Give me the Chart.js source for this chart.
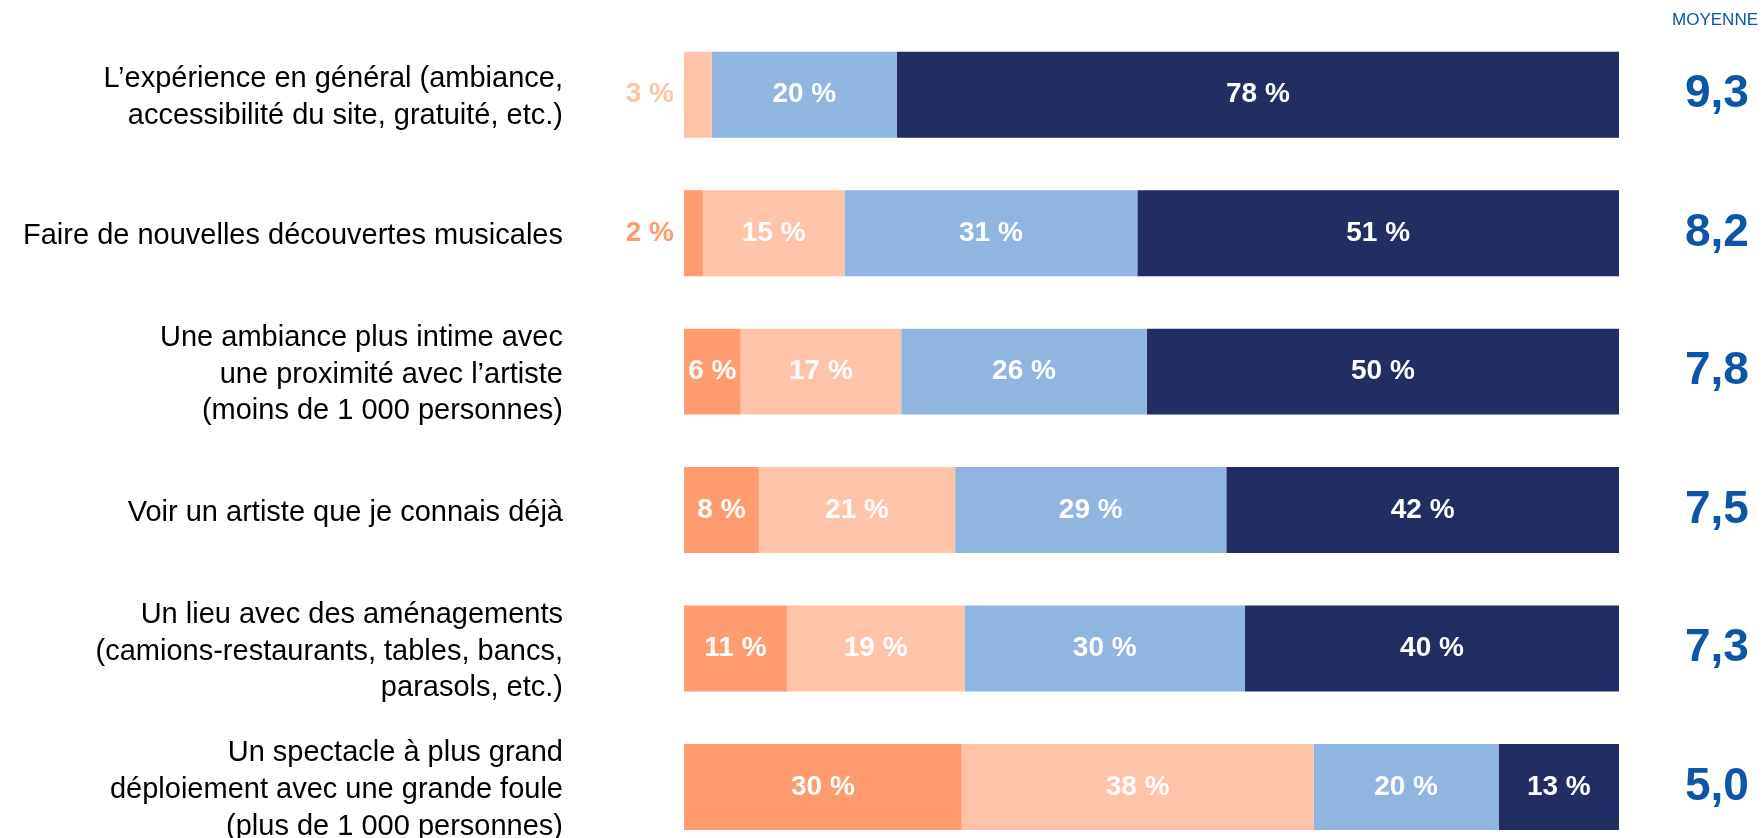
<!DOCTYPE html>
<html>
<head>
<meta charset="utf-8">
<script src="https://cdn.jsdelivr.net/npm/chart.js@4/dist/chart.umd.min.js"></script>
<style>
html,body{margin:0;padding:0;background:#fff;overflow:hidden;}
#wrap{width:1764px;height:838px;position:relative;}
</style>
</head>
<body>
<div id="wrap"><canvas id="c" width="1764" height="838"></canvas></div>
<script>
const categories = [
  ["L’expérience en général (ambiance,", "accessibilité du site, gratuité, etc.)"],
  "Faire de nouvelles découvertes musicales",
  ["Une ambiance plus intime avec", "une proximité avec l’artiste", "(moins de 1 000 personnes)"],
  "Voir un artiste que je connais déjà",
  ["Un lieu avec des aménagements", "(camions-restaurants, tables, bancs,", "parasols, etc.)"],
  ["Un spectacle à plus grand", "déploiement avec une grande foule", "(plus de 1 000 personnes)"]
];
const seriesNames = ["0 à 4", "5 et 6", "7 et 8", "9 et 10"];
const score0to4 = [0, 2, 6, 8, 11, 30];
const score5to6 = [3, 15, 17, 21, 19, 38];
const score7to8 = [20, 31, 26, 29, 30, 20];
const score9to10 = [78, 51, 50, 42, 40, 13];
const means = ["9,3", "8,2", "7,8", "7,5", "7,3", "5,0"];
const meanTitle = "MOYENNE";

const seriesValues = [score0to4, score5to6, score7to8, score9to10];
const colors = ["#FF9B6E", "#FFC3A7", "#8EB6E0", "#222D64"];
const FONT = "'Liberation Sans', Arial, sans-serif";

// bars are shown at full width: each row is rescaled to its own total
const rowTotals = categories.map((_, i) => seriesValues.reduce((s, arr) => s + arr[i], 0));

const datasets = seriesValues.map((vals, k) => ({
  label: seriesNames[k],
  data: vals.map((v, i) => v / rowTotals[i] * 100),
  raw: vals,
  backgroundColor: colors[k],
  borderWidth: 0,
  categoryPercentage: 1,
  barPercentage: 0.621,
  clip: false
}));

const labelPlugin = {
  id: 'segLabels',
  afterDatasetsDraw(chart) {
    const ctx = chart.ctx;
    ctx.save();
    ctx.font = "bold 28px " + FONT;
    ctx.textBaseline = 'middle';
    chart.data.datasets.forEach((ds, di) => {
      const meta = chart.getDatasetMeta(di);
      meta.data.forEach((bar, i) => {
        const v = ds.raw[i];
        if (!v) return;
        const txt = v + " %";
        const w = ctx.measureText(txt).width;
        const left = Math.min(bar.x, bar.base);
        const right = Math.max(bar.x, bar.base);
        if (w + 4 > right - left) {
          ctx.fillStyle = ds.backgroundColor;
          ctx.textAlign = 'right';
          ctx.fillText(txt, left - 10, bar.y);
        } else {
          ctx.fillStyle = '#FFFFFF';
          ctx.textAlign = 'center';
          ctx.fillText(txt, (left + right) / 2, bar.y);
        }
      });
    });
    ctx.font = "17px " + FONT;
    ctx.fillStyle = '#0B57A6';
    ctx.textAlign = 'right';
    ctx.fillText(meanTitle, 1758, 20);
    ctx.restore();
  }
};

function fixAxis(width) {
  return function (s) {
    s.width = width;
    s.paddingTop = 0;
    s.paddingBottom = 0;
  };
}

new Chart(document.getElementById('c'), {
  type: 'bar',
  data: { labels: categories, datasets },
  plugins: [labelPlugin],
  options: {
    indexAxis: 'y',
    responsive: false,
    animation: false,
    events: [],
    layout: { padding: { top: 94.7, bottom: 51, left: 0, right: 0 } },
    plugins: { legend: { display: false }, tooltip: { enabled: false }, title: { display: false } },
    scales: {
      x: { stacked: true, min: 0, max: 100, display: false },
      y: {
        stacked: true,
        offset: false,
        grid: { display: false, drawTicks: false },
        border: { display: false },
        ticks: { autoSkip: false, padding: 121, labelOffset: 3, color: '#000000', font: { family: FONT, size: 29, lineHeight: 1.26 } },
        afterFit: fixAxis(684)
      },
      y2: {
        type: 'category',
        position: 'right',
        labels: means,
        offset: false,
        grid: { display: false, drawTicks: false },
        border: { display: false },
        ticks: { autoSkip: false, padding: 66, color: '#0B57A6', font: { family: FONT, size: 46, weight: 'bold' } },
        afterFit: fixAxis(145)
      }
    }
  }
});
</script>
</body>
</html>
